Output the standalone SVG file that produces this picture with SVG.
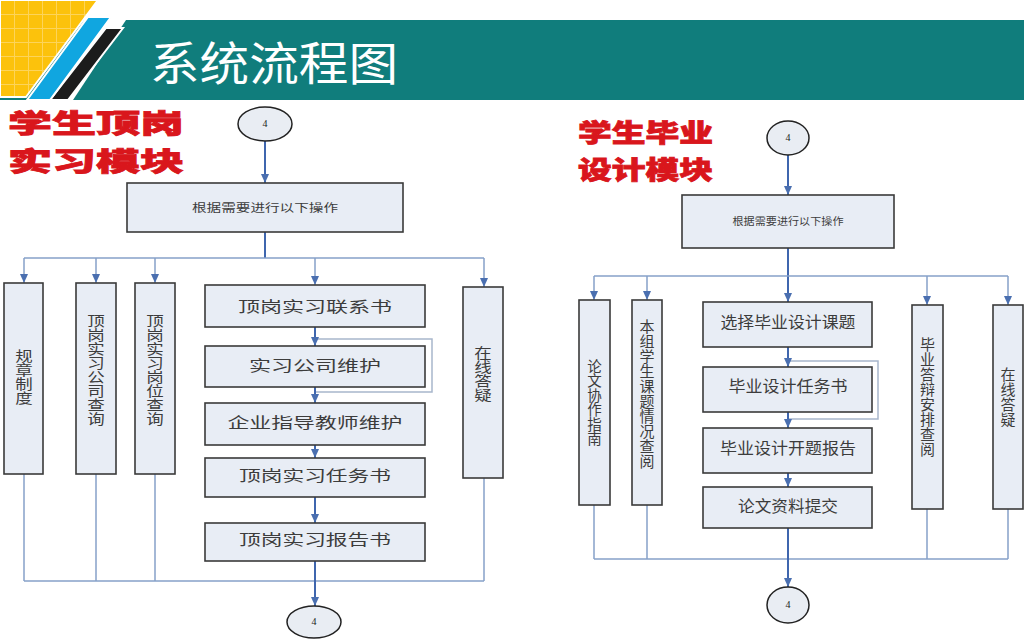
<svg xmlns="http://www.w3.org/2000/svg" width="1024" height="640" viewBox="0 0 1024 640">
<defs>
<style>
.box{fill:#e8edf5;stroke:#3a3a3a;stroke-width:1.6}
.txt{font-family:"Noto Sans CJK SC","Liberation Serif",serif;fill:#3c3c3c;text-anchor:middle}
.vt{font-family:"Noto Sans CJK SC","Liberation Serif",serif;fill:#3c3c3c;text-anchor:start;writing-mode:vertical-rl;text-orientation:upright}
.ttl{font-family:"Noto Sans CJK SC",sans-serif;font-weight:900;fill:#d9161c;stroke:#d9161c;stroke-width:0.8}
.main{stroke:#3f66ae;stroke-width:2;fill:none}
.bus{stroke:#86a0c8;stroke-width:1.5;fill:none}
.loop{stroke:#a8b6cc;stroke-width:1.5;fill:none}
.circ{fill:#e9edf3;stroke:#222;stroke-width:1.5}
.num{font-family:"Liberation Serif",serif;font-size:10px;fill:#222;text-anchor:middle}
</style>
<marker id="arr" markerUnits="userSpaceOnUse" markerWidth="9" markerHeight="8" refX="9" refY="4" orient="auto">
<path d="M0,0 L9,4 L0,8 z" fill="#4a6fb0"/>
</marker>
<pattern id="grid" width="14" height="14" patternUnits="userSpaceOnUse">
<rect width="14" height="14" fill="#fcc20c"/>
<path d="M0,0.5 H14 M0.5,0 V14" stroke="#fdd45a" stroke-width="1"/>
</pattern>
</defs>

<rect width="1024" height="640" fill="#ffffff"/>

<g id="header">
<rect x="0" y="20" width="1024" height="80" fill="#107d7c"/>
<polygon points="86,17 128,17 73,100 32,100" fill="#ffffff"/>
<polygon points="106,28 123,28 68,100 50,100" fill="#1c1c1c" stroke="#ffffff" stroke-width="2"/>
<polygon points="88,17 111,17 50,100 27,100" fill="#10a6e0" stroke="#ffffff" stroke-width="2"/>
<polygon points="0,0 98,0 26,97 0,97" fill="url(#grid)" stroke="#ffffff" stroke-width="2"/>
<text x="150" y="80" font-family="'Noto Sans CJK SC',sans-serif" font-size="46" fill="#ffffff" textLength="248" lengthAdjust="spacingAndGlyphs">系统流程图</text>
</g>

<g id="title-left">
<text class="ttl" x="8" y="133" font-size="26" textLength="176" lengthAdjust="spacingAndGlyphs">学生顶岗</text>
<text class="ttl" x="8" y="171" font-size="26" textLength="176" lengthAdjust="spacingAndGlyphs">实习模块</text>
</g>
<g id="title-right">
<text class="ttl" x="578" y="142" font-size="25" textLength="135" lengthAdjust="spacingAndGlyphs">学生毕业</text>
<text class="ttl" x="578" y="179" font-size="25" textLength="135" lengthAdjust="spacingAndGlyphs">设计模块</text>
</g>

<g id="connectors">
<line class="main" x1="265" y1="141" x2="265" y2="183" marker-end="url(#arr)"/>
<line class="main" x1="265" y1="232" x2="265" y2="258"/>
<line class="bus" x1="24" y1="258" x2="484" y2="258"/>
<line class="bus" x1="24" y1="258" x2="24" y2="283" marker-end="url(#arr)"/>
<line class="bus" x1="96" y1="258" x2="96" y2="283" marker-end="url(#arr)"/>
<line class="bus" x1="155" y1="258" x2="155" y2="283" marker-end="url(#arr)"/>
<line class="bus" x1="315" y1="258" x2="315" y2="285" marker-end="url(#arr)"/>
<line class="bus" x1="484" y1="258" x2="484" y2="287" marker-end="url(#arr)"/>
<polyline class="loop" points="315,339 432,339 432,392 315,392"/>
<line class="main" x1="315" y1="327" x2="315" y2="346" marker-end="url(#arr)"/>
<line class="main" x1="315" y1="387" x2="315" y2="403" marker-end="url(#arr)"/>
<line class="main" x1="315" y1="445" x2="315" y2="458" marker-end="url(#arr)"/>
<line class="main" x1="315" y1="497" x2="315" y2="523" marker-end="url(#arr)"/>
<line class="bus" x1="24" y1="474" x2="24" y2="581"/>
<line class="bus" x1="96" y1="474" x2="96" y2="581"/>
<line class="bus" x1="155" y1="474" x2="155" y2="581"/>
<line class="bus" x1="484" y1="478" x2="484" y2="581"/>
<line class="bus" x1="24" y1="581" x2="484" y2="581"/>
<line class="main" x1="315" y1="561" x2="315" y2="606" marker-end="url(#arr)"/>
<line class="main" x1="788" y1="155" x2="788" y2="195" marker-end="url(#arr)"/>
<line class="main" x1="788" y1="248" x2="788" y2="302" marker-end="url(#arr)"/>
<line class="bus" x1="594" y1="276" x2="1008" y2="276"/>
<line class="bus" x1="594" y1="276" x2="594" y2="300" marker-end="url(#arr)"/>
<line class="bus" x1="647" y1="276" x2="647" y2="300" marker-end="url(#arr)"/>
<line class="bus" x1="927" y1="276" x2="927" y2="305" marker-end="url(#arr)"/>
<line class="bus" x1="1008" y1="276" x2="1008" y2="305" marker-end="url(#arr)"/>
<polyline class="loop" points="788,361 878,361 878,419 788,419"/>
<line class="main" x1="788" y1="347" x2="788" y2="367" marker-end="url(#arr)"/>
<line class="main" x1="788" y1="412" x2="788" y2="428" marker-end="url(#arr)"/>
<line class="main" x1="788" y1="473" x2="788" y2="487" marker-end="url(#arr)"/>
<line class="bus" x1="594" y1="505" x2="594" y2="559"/>
<line class="bus" x1="647" y1="505" x2="647" y2="559"/>
<line class="bus" x1="927" y1="509" x2="927" y2="559"/>
<line class="bus" x1="1008" y1="509" x2="1008" y2="559"/>
<line class="bus" x1="594" y1="559" x2="1008" y2="559"/>
<line class="main" x1="788" y1="528" x2="788" y2="587" marker-end="url(#arr)"/>
</g>

<g id="L-start"><ellipse class="circ" cx="265" cy="124" rx="27" ry="17"/><text class="num" x="265" y="127">4</text></g>
<g id="L-op"><rect class="box" x="127" y="183" width="276" height="49"/><text class="txt" x="265" y="212" font-size="11" textLength="146" lengthAdjust="spacingAndGlyphs">根据需要进行以下操作</text></g>
<g id="L-v1"><rect class="box" x="4" y="283" width="39" height="191"/>
<text class="vt" font-size="14" transform="translate(24,349) scale(1.25,1)" x="0" y="0">规章制度</text></g>
<g id="L-v2"><rect class="box" x="76" y="283" width="40" height="191"/>
<text class="vt" font-size="14" transform="translate(96,314) scale(1.25,1)" x="0" y="0">顶岗实习公司查询</text></g>
<g id="L-v3"><rect class="box" x="135" y="283" width="40" height="191"/>
<text class="vt" font-size="14" transform="translate(155,314) scale(1.25,1)" x="0" y="0">顶岗实习岗位查询</text></g>
<g id="L-v4"><rect class="box" x="463" y="287" width="40" height="191"/>
<text class="vt" font-size="14" transform="translate(483,346) scale(1.25,1)" x="0" y="0">在线答疑</text></g>
<g id="L-h1"><rect class="box" x="205" y="285" width="220" height="42"/><text class="txt" x="315" y="312" font-size="15" textLength="154" lengthAdjust="spacingAndGlyphs">顶岗实习联系书</text></g>
<g id="L-h2"><rect class="box" x="205" y="346" width="220" height="41"/><text class="txt" x="315" y="371" font-size="15" textLength="132" lengthAdjust="spacingAndGlyphs">实习公司维护</text></g>
<g id="L-h3"><rect class="box" x="205" y="403" width="220" height="42"/><text class="txt" x="315" y="428" font-size="15" textLength="175" lengthAdjust="spacingAndGlyphs">企业指导教师维护</text></g>
<g id="L-h4"><rect class="box" x="205" y="458" width="220" height="39"/><text class="txt" x="315" y="481" font-size="15" textLength="152" lengthAdjust="spacingAndGlyphs">顶岗实习任务书</text></g>
<g id="L-h5"><rect class="box" x="205" y="523" width="220" height="38"/><text class="txt" x="315" y="545" font-size="15" textLength="152" lengthAdjust="spacingAndGlyphs">顶岗实习报告书</text></g>
<g id="L-end"><ellipse class="circ" cx="314" cy="622" rx="27" ry="16"/><text class="num" x="314" y="625">4</text></g>

<g id="R-start"><ellipse class="circ" cx="788" cy="138" rx="21" ry="17"/><text class="num" x="788" y="141">4</text></g>
<g id="R-op"><rect class="box" x="682" y="195" width="212" height="53"/><text class="txt" x="788" y="225" font-size="10" textLength="111" lengthAdjust="spacingAndGlyphs">根据需要进行以下操作</text></g>
<g id="R-v1"><rect class="box" x="579" y="300" width="31" height="205"/>
<text class="vt" font-size="14.5" transform="translate(594.5,359)" x="0" y="0">论文协作指南</text></g>
<g id="R-v2"><rect class="box" x="632" y="300" width="30" height="205"/>
<text class="vt" font-size="15" transform="translate(647,319)" x="0" y="0">本组学生课题情况查阅</text></g>
<g id="R-v3"><rect class="box" x="912" y="305" width="31" height="204"/>
<text class="vt" font-size="15" transform="translate(927.5,337)" x="0" y="0">毕业答辩安排查阅</text></g>
<g id="R-v4"><rect class="box" x="993" y="305" width="30" height="204"/>
<text class="vt" font-size="15" transform="translate(1008,367)" x="0" y="0">在线答疑</text></g>
<g id="R-h1"><rect class="box" x="703" y="302" width="169" height="45"/><text class="txt" x="788" y="328" font-size="16" textLength="135" lengthAdjust="spacingAndGlyphs">选择毕业设计课题</text></g>
<g id="R-h2"><rect class="box" x="703" y="367" width="169" height="45"/><text class="txt" x="788" y="392" font-size="16" textLength="119" lengthAdjust="spacingAndGlyphs">毕业设计任务书</text></g>
<g id="R-h3"><rect class="box" x="703" y="428" width="169" height="45"/><text class="txt" x="788" y="454" font-size="16" textLength="136" lengthAdjust="spacingAndGlyphs">毕业设计开题报告</text></g>
<g id="R-h4"><rect class="box" x="703" y="487" width="169" height="41"/><text class="txt" x="788" y="512" font-size="16" textLength="100" lengthAdjust="spacingAndGlyphs">论文资料提交</text></g>
<g id="R-end"><ellipse class="circ" cx="788" cy="605" rx="21" ry="18"/><text class="num" x="788" y="608">4</text></g>
</svg>
